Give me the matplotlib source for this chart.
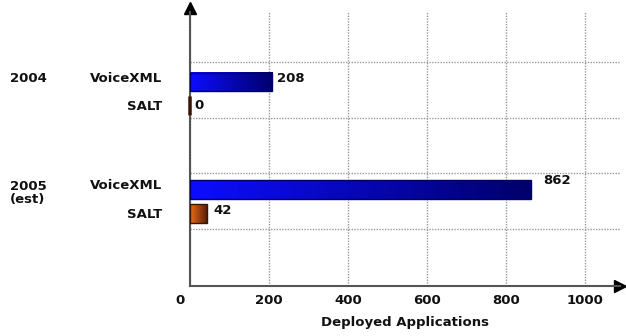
import numpy as np
from matplotlib import pyplot as plt
from matplotlib import transforms
from matplotlib.colors import LinearSegmentedColormap

# values
years = ['2004', '2005\n(est)']
techs = ['VoiceXML', 'SALT']
voicexml = [208, 862]
salt = [0, 42]
xticks = [0, 200, 400, 600, 800, 1000]
xlabel = 'Deployed Applications'

blue = LinearSegmentedColormap.from_list('blue', [(0.05, 0.05, 1.0), (0.0, 0.0, 0.42)])
orange = LinearSegmentedColormap.from_list('orange', [(0.93, 0.42, 0.08), (0.35, 0.12, 0.04)])

fs = 9.5
fig = plt.figure(figsize=(6.26, 3.36), dpi=100)
ax = fig.add_axes([190/626, 50/336, 430/626, 274/336])
ax.set_xlim(0, 1088)
ax.set_ylim(5.03, 0.1)

# group centres between gridlines, two bars per group
group_y = [1.575, 3.505]
off = 0.215
h = 0.34
grad = np.linspace(0, 1, 256).reshape(1, -1)

label_off = {'VoiceXML': [(5, 4), (13, 9)], 'SALT': [(4, 0), (7, 3)]}
for g, yc in enumerate(group_y):
    for name, vals, cmap, edge, dy in [('VoiceXML', voicexml, blue, '#000066', -off),
                                       ('SALT', salt, orange, '#3a1505', off)]:
        y = yc + dy
        v = vals[g]
        if v > 0:
            ax.barh(y, v, height=h, color='none', edgecolor=edge, linewidth=1, zorder=4)
            ax.imshow(grad, cmap=cmap, aspect='auto', extent=[0, v, y + h/2, y - h/2],
                      zorder=3, interpolation='bicubic')
        else:
            # zero-length bar still shows as a thin sliver past the axis
            ax.barh(y, v, height=h, color='none', edgecolor=edge, linewidth=2.5,
                    zorder=4, snap=False, clip_on=False)
        ox, oy = label_off[name][g]
        ax.annotate(str(v), xy=(v, y), xytext=(ox, oy), textcoords='offset pixels',
                    ha='left', va='center', fontsize=fs, fontweight='bold', color='#111111')
        ax.annotate(name, xy=(0, y), xycoords=('axes fraction', 'data'),
                    xytext=(-28, 4 if name == 'VoiceXML' else -1), textcoords='offset pixels',
                    ha='right', va='center', fontsize=fs, fontweight='bold', color='#111111')
    ax.annotate(years[g], xy=(0, yc - off), xycoords=('axes fraction', 'data'),
                xytext=(-180, 4 if g == 0 else 9), textcoords='offset pixels',
                ha='left', va='center' if g == 0 else 'top', fontsize=fs, fontweight='bold',
                color='#111111', linespacing=1.0)

ax.set_xlim(0, 1088)
ax.set_ylim(5.03, 0.1)

ax.set_xticks(xticks)
ax.set_xticklabels([str(t) for t in xticks], fontsize=fs, fontweight='bold', color='#111111')
ax.tick_params(axis='x', length=0, pad=6)
lab0 = ax.get_xticklabels()[0]
lab0.set_transform(lab0.get_transform() + transforms.ScaledTranslation(-10/100, 0, fig.dpi_scale_trans))
ax.set_yticks([1, 2, 3, 4])
ax.tick_params(axis='y', length=0, labelleft=False)
ax.grid(True, color='#999999', linestyle=(0, (1, 1)), linewidth=1)
ax.set_axisbelow(True)

for s in ['top', 'right']:
    ax.spines[s].set_visible(False)
for s in ['left', 'bottom']:
    ax.spines[s].set_color('#555555')
    ax.spines[s].set_linewidth(1.5)

ax.plot([0], [1.016], marker='^', ms=9, color='black', transform=ax.transAxes, clip_on=False)
ax.plot([1.0], [0], marker='>', ms=9, color='black', transform=ax.transAxes, clip_on=False)

ax.set_xlabel(xlabel, fontsize=fs, fontweight='bold', color='#111111', labelpad=6)

fig.savefig('out.png', dpi=100, facecolor='white')
